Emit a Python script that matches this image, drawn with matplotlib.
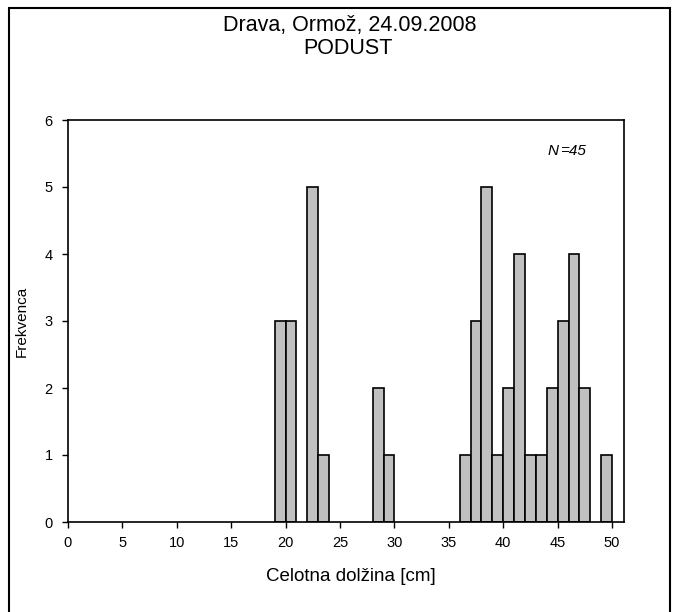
import matplotlib
matplotlib.use("Agg")
import matplotlib.pyplot as plt
from matplotlib.patches import Rectangle

# frekvenca po 1 cm razredih (levi rob razreda)
dolzina = [19, 20, 22, 23, 28, 29, 36, 37, 38, 39, 40, 41, 42, 43, 44, 45, 46, 47, 49]
frekvenca = [3, 3, 5, 1, 2, 1, 1, 3, 5, 1, 2, 4, 1, 1, 2, 3, 4, 2, 1]
x_ticks = [0, 5, 10, 15, 20, 25, 30, 35, 40, 45, 50]
y_ticks = [0, 1, 2, 3, 4, 5, 6]

plt.rcParams["font.family"] = ["Liberation Sans", "DejaVu Sans"]

fig = plt.figure(figsize=(6.78, 6.12), dpi=100)
ax = fig.add_axes([68 / 678, 90 / 612, 556 / 678, 402 / 612])

ax.bar(dolzina, frekvenca, width=1.0, align="edge",
       color="#c0c0c0", edgecolor="black", linewidth=1.2)

ax.set_xlim(0, 51.1)
ax.set_ylim(0, 6)
ax.set_xticks(x_ticks)
ax.set_yticks(y_ticks)
ax.tick_params(direction="out", length=4, width=1, labelsize=10.5)
ax.tick_params(axis="x", pad=6)
ax.tick_params(axis="y", pad=7)
for sp in ax.spines.values():
    sp.set_linewidth(1.2)

ax.set_xlabel("Celotna dolžina [cm]", fontsize=13.5, labelpad=12)
ax.xaxis.set_label_coords((351 - 68) / 556, -0.115)
ax.set_ylabel("Frekvenca", fontsize=11, labelpad=11)

ax.text((548 - 68) / 556, 0.923, "N", transform=ax.transAxes, fontsize=11,
        style="italic", ha="left", va="center")
ax.text((560 - 68) / 556, 0.923, "=45", transform=ax.transAxes, fontsize=11,
        style="italic", ha="left", va="center")

fig.text(350 / 678, 1 - 26 / 612, "Drava, Ormož, 24.09.2008", ha="center",
         va="center", fontsize=15.5)
fig.text(348 / 678, 1 - 49 / 612, "PODUST", ha="center", va="center",
         fontsize=15.5)

# okvir okoli celotnega grafa
fig.patches.append(Rectangle((9 / 678, -0.05), 661 / 678, 1.05 - 8 / 612,
                             transform=fig.transFigure, fill=False,
                             edgecolor="black", linewidth=1.5))

fig.savefig("out.png", dpi=100)
